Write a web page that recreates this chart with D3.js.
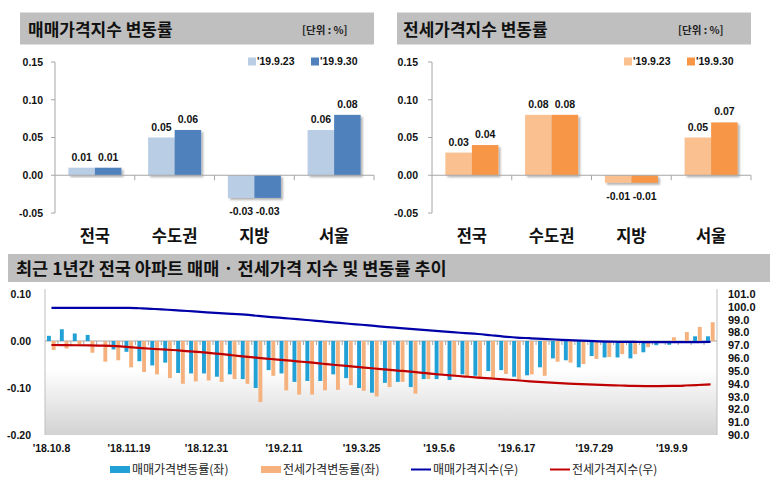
<!DOCTYPE html>
<html><head><meta charset="utf-8">
<script src="https://cdn.jsdelivr.net/npm/d3@7"></script>
<style>body{margin:0;background:#fff;} svg{display:block;}</style>
</head><body><svg id="c" width="770" height="487"></svg>
<script>
// ---------- data ----------
const regions = ["전국", "수도권", "지방", "서울"];
const saleChangePrev = [0.01, 0.05, -0.03, 0.06];
const saleChangeCur = [0.01, 0.06, -0.03, 0.08];
const jeonseChangePrev = [0.03, 0.08, -0.01, 0.05];
const jeonseChangeCur = [0.04, 0.08, -0.01, 0.07];
const weekLegend = ["'19.9.23", "'19.9.30"];
const topTicks = [0.15, 0.10, 0.05, 0.00, -0.05];

const weeks = ["'18.10.8","'18.10.15","'18.10.22","'18.10.29","'18.11.5","'18.11.12","'18.11.19","'18.11.26",
 "'18.12.3","'18.12.10","'18.12.17","'18.12.24","'18.12.31","'19.1.7","'19.1.14","'19.1.21","'19.1.28",
 "'19.2.4","'19.2.11","'19.2.18","'19.2.25","'19.3.4","'19.3.11","'19.3.18","'19.3.25","'19.4.1","'19.4.8",
 "'19.4.15","'19.4.22","'19.4.29","'19.5.6","'19.5.13","'19.5.20","'19.5.27","'19.6.3","'19.6.10","'19.6.17",
 "'19.6.24","'19.7.1","'19.7.8","'19.7.15","'19.7.22","'19.7.29","'19.8.5","'19.8.12","'19.8.19","'19.8.26",
 "'19.9.2","'19.9.9","'19.9.16","'19.9.23","'19.9.30"];
const weekTickLabels = ["'18.10.8","'18.11.19","'18.12.31","'19.2.11","'19.3.25","'19.5.6","'19.6.17","'19.7.29","'19.9.9"];

const saleChangeWeekly = [0.011,0.025,0.016,0.013,0.0,-0.018,-0.023,-0.043,-0.052,-0.046,
 -0.068,-0.069,-0.069,-0.076,-0.071,-0.081,-0.10,-0.062,-0.069,-0.087,
 -0.085,-0.085,-0.071,-0.079,-0.10,-0.11,-0.089,-0.087,-0.098,-0.081,
 -0.081,-0.083,-0.071,-0.074,-0.064,-0.062,-0.076,-0.073,-0.056,-0.037,
 -0.041,-0.056,-0.032,-0.035,-0.035,-0.037,-0.024,-0.009,-0.008,0.0,
 0.01,0.01];
const jeonseChangeWeekly = [-0.019,-0.016,-0.009,-0.025,-0.044,-0.041,-0.056,-0.066,-0.071,-0.079,
 -0.091,-0.086,-0.084,-0.087,-0.081,-0.091,-0.13,-0.074,-0.105,-0.114,
 -0.114,-0.105,-0.104,-0.094,-0.106,-0.118,-0.098,-0.087,-0.112,-0.081,
 -0.071,-0.075,-0.075,-0.078,-0.079,-0.070,-0.082,-0.071,-0.074,-0.044,
 -0.046,-0.049,-0.038,-0.034,-0.028,-0.028,-0.013,-0.002,0.008,0.019,
 0.03,0.04];
const saleIndex = [99.91,99.91,99.91,99.91,99.91,99.91,99.91,99.88,99.83,99.77,
 99.71,99.64,99.57,99.51,99.45,99.39,99.29,99.20,99.12,99.04,
 98.95,98.86,98.77,98.68,98.60,98.51,98.42,98.34,98.26,98.18,
 98.10,98.02,97.95,97.88,97.78,97.68,97.60,97.55,97.50,97.45,
 97.40,97.36,97.32,97.29,97.27,97.26,97.25,97.24,97.24,97.24,
 97.25,97.26];
const jeonseIndex = [97.02,97.01,97.00,96.99,96.97,96.93,96.86,96.78,96.71,96.65,
 96.59,96.51,96.42,96.33,96.22,96.12,96.02,95.93,95.84,95.75,
 95.66,95.56,95.46,95.37,95.28,95.19,95.10,95.01,94.92,94.82,
 94.72,94.64,94.56,94.48,94.41,94.34,94.27,94.19,94.12,94.06,
 94.01,93.97,93.93,93.89,93.86,93.83,93.82,93.82,93.83,93.86,
 93.90,93.95];
const leftTicks = [0.10, 0.00, -0.10, -0.20];
const rightTicks = [101,100,99,98,97,96,95,94,93,92,91,90];
const bottomLegend = ["매매가격변동률(좌)", "전세가격변동률(좌)", "매매가격지수(우)", "전세가격지수(우)"];

// ---------- drawing ----------
const KR = "'Noto Sans CJK KR', sans-serif";
const NUM = "'Liberation Sans', Arial, sans-serif";
const f2 = v => d3.format(".2f")(v).replace("\u2212","-");
const f1 = v => d3.format(".1f")(v).replace("\u2212","-");
const svg = d3.select("#c");
const defs = svg.append("defs");
const f = defs.append("filter").attr("id","sh").attr("x","-20%").attr("y","-20%").attr("width","150%").attr("height","150%");
f.append("feDropShadow").attr("dx",2).attr("dy",2).attr("stdDeviation",1.2).attr("flood-color","#000").attr("flood-opacity",0.3);
const grad = defs.append("linearGradient").attr("id","bg").attr("x1",0).attr("y1",0).attr("x2",0).attr("y2",1);
grad.append("stop").attr("offset","0").attr("stop-color","#ffffff");
grad.append("stop").attr("offset","0.55").attr("stop-color","#ffffff");
grad.append("stop").attr("offset","1").attr("stop-color","#d2d2d2");

function panel(o){
  const g = svg.append("g");
  g.append("rect").attr("x",o.barX0).attr("y",12.5).attr("width",o.barX1-o.barX0).attr("height",32).attr("fill","#bfbfbf");
  g.append("text").attr("x",o.titleX).attr("y",36).attr("font-family",KR).attr("font-weight",700)
    .attr("font-size",17).attr("fill","#111").text(o.title);
  g.append("text").attr("x",o.unitX).attr("y",34).attr("font-family",KR).attr("font-weight",700)
    .attr("font-size",10.5).attr("fill","#222").text("[단위 : %]");
  const y = d3.scaleLinear().domain([-0.05,0.15]).range([213,62]);
  const x0 = d3.scaleBand().domain(regions).range([o.axisX,o.plotX1]).paddingInner(0.335).paddingOuter(0.1675);
  const x1 = d3.scaleBand().domain([0,1]).range([0,x0.bandwidth()]);
  g.append("line").attr("x1",o.axisX).attr("x2",o.axisX).attr("y1",y(0.15)).attr("y2",y(-0.05)).attr("stroke","#a6a6a6");
  topTicks.forEach(t=>{
    g.append("line").attr("x1",o.axisX-4).attr("x2",o.axisX).attr("y1",y(t)).attr("y2",y(t)).attr("stroke","#a6a6a6");
    g.append("text").attr("x",o.axisX-o.tickGap).attr("y",y(t)).attr("dy","0.36em").attr("text-anchor","end")
      .attr("font-family",NUM).attr("font-weight",700).attr("font-size",10.5).attr("fill","#111").text(f2(t));
  });
  const series = [o.prev,o.cur];
  regions.forEach((r,i)=>{
    series.forEach((s,j)=>{
      const v = s[i];
      g.append("rect").attr("x",x0(r)+x1(j)).attr("width",x1.bandwidth())
        .attr("y",y(Math.max(0,v))).attr("height",Math.abs(y(v)-y(0)))
        .attr("fill",o.colors[j]).attr("filter","url(#sh)");
      const tx = x0(r)+x1(j)+x1.bandwidth()/2;
      g.append("text").attr("x",tx).attr("y", v>=0 ? y(v)-7 : y(v)+17).attr("text-anchor","middle")
        .attr("font-family",NUM).attr("font-weight",700).attr("font-size",10.5).attr("fill","#111")
        .text(f2(v));
    });
    g.append("text").attr("x",x0(r)+x0.bandwidth()/2).attr("y",242).attr("text-anchor","middle")
      .attr("font-family",KR).attr("font-weight",700).attr("font-size",16.5).attr("fill","#111").text(r);
  });
  g.append("line").attr("x1",o.axisX).attr("x2",o.plotX1).attr("y1",y(0)).attr("y2",y(0)).attr("stroke","#a6a6a6");
  regions.forEach((r,i)=>{
    const bx = o.axisX + x0.step()*(i+1);
    g.append("line").attr("x1",bx).attr("x2",bx).attr("y1",y(0)).attr("y2",y(0)+5).attr("stroke","#a6a6a6");
  });
  weekLegend.forEach((w,j)=>{
    g.append("rect").attr("x",o.legX[j]).attr("y",57.5).attr("width",8).attr("height",8).attr("fill",o.colors[j]);
    g.append("text").attr("x",o.legX[j]+9).attr("y",65).attr("font-family",NUM).attr("font-weight",700)
      .attr("font-size",10.5).attr("fill","#111").text(w);
  });
}

panel({barX0:20,barX1:374,titleX:28,unitX:302,title:"매매가격지수 변동률",axisX:55,plotX1:374,tickGap:12,
  prev:saleChangePrev,cur:saleChangeCur,colors:["#b9cde5","#4f81bd"],legX:[248,311]});
panel({barX0:397,barX1:751,titleX:403,unitX:678,title:"전세가격지수 변동률",axisX:432,plotX1:751,tickGap:14,
  prev:jeonseChangePrev,cur:jeonseChangeCur,colors:["#fac090","#f79646"],legX:[624,687]});

// ---------- bottom chart ----------
const b = svg.append("g");
b.append("rect").attr("x",8).attr("y",254).attr("width",762).attr("height",28).attr("fill","#bfbfbf");
b.append("text").attr("x",16).attr("y",275).attr("font-family",KR).attr("font-weight",700).attr("font-size",17.5)
  .attr("fill","#111").text("최근 1년간 전국 아파트 매매 · 전세가격 지수 및 변동률 추이");

const X0 = 45, X1 = 717;
const yL = d3.scaleLinear().domain([-0.2,0.1]).range([435,294]);
const yR = d3.scaleLinear().domain([90,101]).range([435,294]);
const xb = d3.scaleBand().domain(weeks).range([X0,X1]).paddingInner(0.3).paddingOuter(0.15);
const bw = xb.bandwidth();

b.append("rect").attr("x",X0).attr("y",289).attr("width",X1-X0).attr("height",146).attr("fill","url(#bg)");
b.append("line").attr("x1",X0).attr("x2",X0).attr("y1",289).attr("y2",435).attr("stroke","#bfbfbf");
b.append("line").attr("x1",X1).attr("x2",X1).attr("y1",289).attr("y2",435).attr("stroke","#bfbfbf");

b.append("line").attr("x1",X0).attr("x2",X1).attr("y1",yL(0)).attr("y2",yL(0)).attr("stroke","#a6a6a6");
weeks.forEach((w,i)=>{
  const bx = X0 + xb.step()*i;
  if(i>0) b.append("line").attr("x1",bx).attr("x2",bx).attr("y1",yL(0)).attr("y2",yL(0)+4).attr("stroke","#a6a6a6");
});

weeks.forEach((w,i)=>{
  const s = saleChangeWeekly[i], j = jeonseChangeWeekly[i];
  b.append("rect").attr("x",xb(w)).attr("width",bw/2-0.6).attr("y",yL(Math.max(0,s))).attr("height",Math.abs(yL(s)-yL(0)))
    .attr("fill","#21a1d6");
  b.append("rect").attr("x",xb(w)+bw/2+0.2).attr("width",bw/2-0.6).attr("y",yL(Math.max(0,j))).attr("height",Math.abs(yL(j)-yL(0)))
    .attr("fill","#f5b27f");
});

const lineR = d3.line().x((d,i)=>xb(weeks[i])+bw/2).y(d=>yR(d)).curve(d3.curveMonotoneX);
b.append("path").attr("d",lineR(jeonseIndex)).attr("fill","none").attr("stroke","#c00000").attr("stroke-width",2.2);
b.append("path").attr("d",lineR(saleIndex)).attr("fill","none").attr("stroke","#0000a8").attr("stroke-width",2.2);

leftTicks.forEach(t=>{
  b.append("text").attr("x",31).attr("y",yL(t)).attr("dy","0.36em").attr("text-anchor","end")
    .attr("font-family",NUM).attr("font-weight",700).attr("font-size",10.5).attr("fill","#111").text(f2(t));
});
rightTicks.forEach(t=>{
  b.append("text").attr("x",728).attr("y",yR(t)).attr("dy","0.36em").attr("text-anchor","start")
    .attr("font-family",NUM).attr("font-weight",700).attr("font-size",11).attr("fill","#111").text(f1(t));
});
weekTickLabels.forEach(w=>{
  b.append("text").attr("x",xb(w)+bw/2).attr("y",452).attr("text-anchor","middle")
    .attr("font-family",NUM).attr("font-weight",700).attr("font-size",10.5).attr("fill","#111").text(w);
});

const legX = [110, 261, 411, 550];
const legCol = ["#21a1d6","#f5b27f","#0000a8","#c00000"];
bottomLegend.forEach((t,i)=>{
  if(i<2) b.append("rect").attr("x",legX[i]).attr("y",466).attr("width",20).attr("height",7).attr("fill",legCol[i]);
  else b.append("line").attr("x1",legX[i]).attr("x2",legX[i]+20).attr("y1",469.5).attr("y2",469.5).attr("stroke",legCol[i]).attr("stroke-width",2);
  b.append("text").attr("x",legX[i]+22).attr("y",474).attr("font-family",KR).attr("font-size",12).attr("fill","#222").text(t);
});
</script></body></html>
